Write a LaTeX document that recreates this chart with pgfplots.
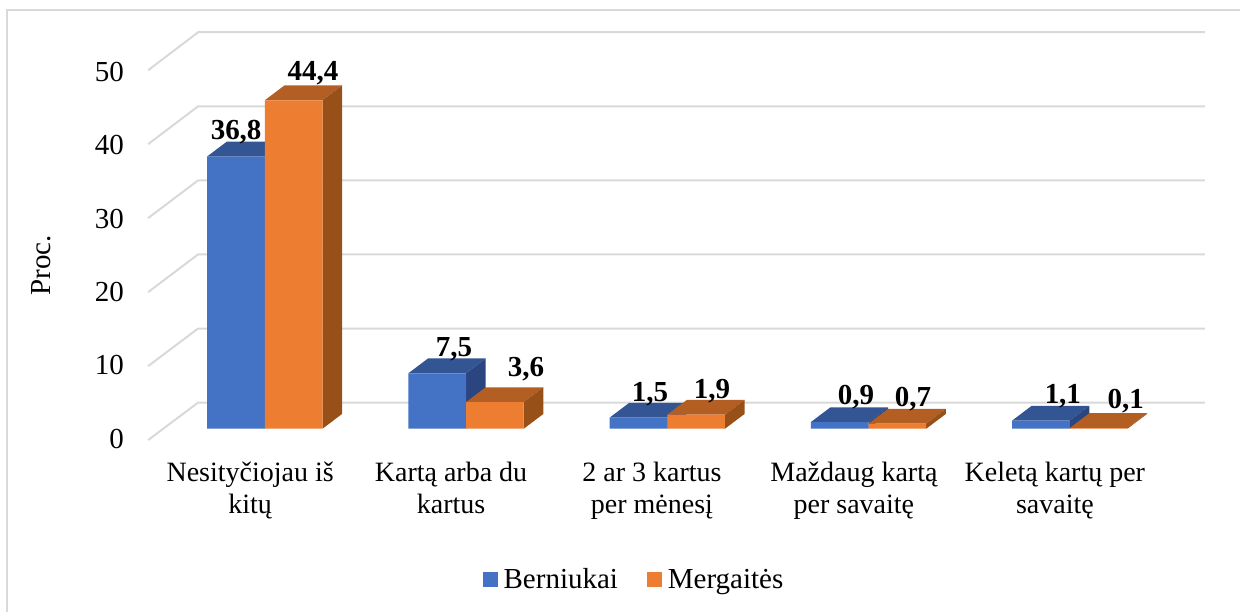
\documentclass[border=0pt]{standalone}
\usepackage{fontspec}
\setmainfont{Liberation Serif}
\usepackage{pgfplots}
\pgfplotsset{compat=1.18}
\definecolor{boyfront}{HTML}{4472C4}
\definecolor{boytop}{HTML}{335593}
\definecolor{boyside}{HTML}{2A4580}
\definecolor{girlfront}{HTML}{ED7D31}
\definecolor{girltop}{HTML}{B35E22}
\definecolor{girlside}{HTML}{985019}
\definecolor{gridc}{HTML}{D9D9D9}

% x axis runs in picture pixels, y axis in percent; 1 px = 0.5 pt
% top and side faces of one bar: left x, value, colours
\newcommand{\depthfaces}[4]{%
  \pgfmathsetmacro\xa{#1+57.7}%
  \pgfmathsetmacro\xb{#1+57.7+19.6}%
  \pgfmathsetmacro\xc{#1+19.6}%
  \pgfmathsetmacro\vb{#2+2}%
  \addplot[fill=#3,draw=none,forget plot] coordinates {(#1,#2)(\xa,#2)(\xb,\vb)(\xc,\vb)(#1,#2)};
  \addplot[fill=#4,draw=none,forget plot] coordinates {(\xa,0)(\xb,2)(\xb,\vb)(\xa,#2)(\xa,0)};
}

\begin{document}
\begin{tikzpicture}
\begin{axis}[
  scale only axis,
  width=620pt, height=306pt,
  xmin=0, xmax=1240, ymin=-24.77, ymax=57.93,
  axis line style={draw=none},
  major tick length=0pt,
  no markers,
  ytick={-1.32,8.58,18.49,28.39,38.30,48.20},
  yticklabels={0,10,20,30,40,50},
  yticklabel style={anchor=east, inner sep=0pt, xshift=62pt, font=\fontsize{14.5}{16}\selectfont},
  xtick={250,451,652,854,1055},
  xticklabels={Nesityčiojau iš\\kitų, Kartą arba du\\kartus, 2 ar 3 kartus\\per mėnesį, Maždaug kartą\\per savaitę, Keletą kartų per\\savaitę},
  xticklabel style={anchor=north, align=center, inner sep=0pt, yshift=75pt, font=\fontsize{14}{16}\selectfont},
  ylabel={Proc.},
  every axis y label/.style={at={(axis cs:41,22.1)}, rotate=90, anchor=center, font=\fontsize{14.5}{16}\selectfont},
  legend style={at={(axis description cs:0.5121,0.0523)}, anchor=center, draw=none, fill=none,
    legend columns=2, font=\fontsize{14.5}{16}\selectfont,
    /tikz/every even column/.append style={column sep=12.5pt}},
  clip=true,
]
% outer frame
\addplot[gridc, line width=1pt, forget plot] coordinates {(1240,56.65)(7,56.65)(7,-24.77)};
% back wall grid lines with the floor diagonals
\addplot[gridc, line width=1pt, forget plot] coordinates {(148,-1.53)(198,3.54)(1205,3.54)};
\addplot[gridc, line width=1pt, forget plot] coordinates {(148,8.47)(198,13.55)(1205,13.55)};
\addplot[gridc, line width=1pt, forget plot] coordinates {(148,18.47)(198,23.57)(1205,23.57)};
\addplot[gridc, line width=1pt, forget plot] coordinates {(148,28.47)(198,33.58)(1205,33.58)};
\addplot[gridc, line width=1pt, forget plot] coordinates {(148,38.47)(198,43.59)(1205,43.59)};
\addplot[gridc, line width=1pt, forget plot] coordinates {(148,48.46)(198,53.60)(1205,53.60)};

% Berniukai
\depthfaces{207.0}{36.8}{boytop}{boyside}
\depthfaces{408.3}{7.5}{boytop}{boyside}
\depthfaces{609.6}{1.5}{boytop}{boyside}
\depthfaces{810.9}{0.9}{boytop}{boyside}
\depthfaces{1012.2}{1.1}{boytop}{boyside}
\addplot[ybar, bar width=28.85pt, bar shift=0pt, fill=boyfront, draw=none,
  legend image code/.code={\fill[boyfront] (0pt,-3.75pt) rectangle (7.5pt,3.75pt);}]
  coordinates {(235.85,36.8)(437.15,7.5)(638.45,1.5)(839.75,0.9)(1041.05,1.1)};
\addlegendentry{\hspace{1pt}Berniukai}

% Mergaitės
\depthfaces{264.7}{44.4}{girltop}{girlside}
\depthfaces{466.0}{3.6}{girltop}{girlside}
\depthfaces{667.3}{1.9}{girltop}{girlside}
\depthfaces{868.6}{0.7}{girltop}{girlside}
\depthfaces{1069.9}{0.1}{girltop}{girlside}
\addplot[ybar, bar width=28.85pt, bar shift=0pt, fill=girlfront, draw=none,
  legend image code/.code={\fill[girlfront] (0pt,-3.75pt) rectangle (7.5pt,3.75pt);}]
  coordinates {(293.55,44.4)(494.85,3.6)(696.15,1.9)(897.45,0.7)(1098.75,0.1)};
\addlegendentry{\hspace{1pt}Mergaitės}

% value labels, placed one by one as in the reference
\addplot[draw=none, forget plot, point meta=explicit,
  nodes near coords={\pgfmathprintnumber[use comma,fixed,fixed zerofill,precision=1,assume math mode=true]{\pgfplotspointmeta}},
  every node near coord/.append style={anchor=base, inner sep=0pt, font=\bfseries\fontsize{14.5}{16}\selectfont},
] table[x=lx, y=ly, meta=val] {
lx ly val
236 39.15 36.8
313 47.12 44.4
454 9.82 7.5
526 7.12 3.6
650 3.74 1.5
712 4.15 1.9
856 3.34 0.9
913 3.07 0.7
1063 3.47 1.1
1126 2.80 0.1
};
\end{axis}
\end{tikzpicture}
\end{document}
